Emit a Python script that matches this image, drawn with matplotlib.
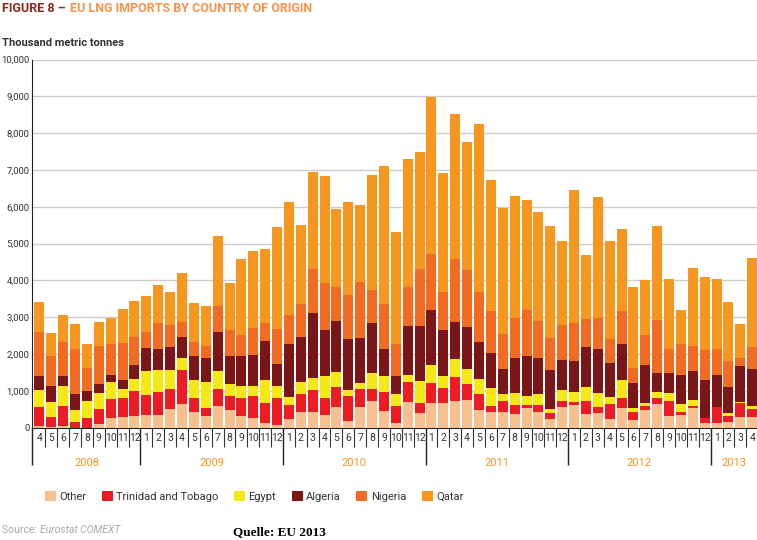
import matplotlib
matplotlib.use('Agg')
import numpy as np
import matplotlib.pyplot as plt
import matplotlib.transforms as mtransforms

plt.rcParams['font.family'] = ['Roboto', 'DejaVu Sans']

# months shown on the axis, Apr 2008 .. Apr 2013
year_labels = ['2008', '2009', '2010', '2011', '2012', '2013']
months_per_year = [9, 12, 12, 12, 12, 4]
month_labels = ['4', '5', '6', '7', '8', '9', '10', '11', '12'] + \
    [str(m) for m in range(1, 13)] * 4 + ['1', '2', '3', '4']

# thousand metric tonnes
other = [55, 10, 40, 0, 0, 100, 255, 300, 320,
         345, 345, 510, 636, 436, 318, 600, 482, 327, 255, 118, 73,
         227, 436, 418, 345, 555, 182, 573, 727, 464, 118, 691, 391,
         664, 682, 736, 755, 482, 436, 436, 373, 527, 436, 236, 555,
         618, 373, 409, 245, 527, 209, 482, 645, 318, 345, 527, 136,
         136, 164, 300, 282]
trinidad = [520, 290, 550, 155, 265, 400, 520, 520, 680,
            530, 630, 545, 937, 373, 227, 455, 382, 473, 609, 546, 736,
            391, 482, 609, 473, 545, 682, 482, 318, 518, 473, 545, 291,
            545, 391, 637, 427, 427, 155, 300, 245, 91, 182, 173, 172,
            91, 363, 146, 391, 273, 227, 109, 155, 409, 91, 64, 119,
            419, 154, 382, 218]
egypt = [450, 410, 545, 330, 470, 435, 465, 225, 320,
         655, 580, 500, 317, 473, 691, 472, 327, 336, 264, 618, 327,
         227, 318, 318, 573, 400, 163, 154, 437, 409, 327, 200, 591,
         500, 318, 491, 409, 409, 482, 182, 318, 245, 300, 91, 300,
         273, 382, 381, 209, 500, 91, 73, 182, 228, 209, 164, 10,
         18, 73, 27, 100]
algeria = [390, 430, 280, 435, 265, 255, 180, 255, 390,
           635, 580, 635, 565, 654, 654, 1064, 764, 819, 855, 1082, 591,
           1428, 1228, 1773, 1273, 1391, 1382, 1227, 1363, 745, 473, 1319, 1482,
           1500, 1273, 1009, 1145, 1000, 954, 673, 955, 1091, 973, 1073, 818,
           818, 1073, 1200, 910, 973, 682, 1045, 500, 527, 773, 772, 1027,
           863, 709, 955, 1000]
nigeria = [1180, 820, 900, 1220, 620, 1035, 855, 1000, 745,
           435, 710, 590, 418, 382, 319, 727, 690, 554, 727, 481, 964,
           800, 900, 1182, 1272, 936, 1182, 1528, 891, 1228, 882, 1072, 1545,
           1518, 1027, 1718, 1546, 1373, 1137, 964, 1091, 1254, 1000, 854, 955,
           1045, 764, 846, 654, 909, 409, 800, 1454, 654, 855, 700, 809,
           700, 700, 227, 591]
qatar = [820, 600, 750, 680, 655, 640, 710, 935, 990,
         990, 1020, 900, 1317, 1072, 1091, 1891, 1273, 2064, 2091, 2019, 2773,
         3045, 2136, 2636, 2891, 2109, 2527, 2081, 3128, 3754, 3045, 3473, 3200,
         4255, 3218, 3918, 3473, 4545, 3572, 3409, 3318, 2973, 2954, 3055, 2273,
         3619, 1727, 3274, 2664, 2227, 2200, 1491, 2546, 1891, 936, 2118, 1982,
         1909, 1618, 927, 2427]

series_names = ['Other', 'Trinidad and Tobago', 'Egypt', 'Algeria', 'Nigeria', 'Qatar']
series = [other, trinidad, egypt, algeria, nigeria, qatar]
colors = ['#f8c08f', '#ed1c24', '#f5e814', '#7a1518', '#f26b23', '#f8971f']

W, H = 757, 540
fig = plt.figure(figsize=(W / 100, H / 100), dpi=100)
ax = fig.add_axes([32.3 / W, 1 - 427.7 / H, 1 - 32.3 / W, (427.7 - 59.5) / H])

x = np.arange(len(month_labels))
bottom = np.zeros(len(x))
for name, vals, col in zip(series_names, series, colors):
    ax.bar(x, vals, 0.84, bottom=bottom, color=col, label=name, zorder=3)
    bottom += np.array(vals)

ax.set_xlim(-0.6, 60.4)
ax.set_ylim(0, 10000)
ax.set_yticks(range(0, 10001, 1000))
ax.set_yticklabels([f'{v:,}' for v in range(0, 10001, 1000)])
ax.yaxis.grid(True, color='#cdcdcd', lw=1, zorder=0)
ax.set_axisbelow(True)
ax.tick_params(axis='y', length=0, pad=2, labelsize=6.8, labelcolor='#333333')

ax.set_xticks(x)
ax.set_xticklabels(month_labels)
ax.tick_params(axis='x', length=0, pad=4, labelsize=7.5, labelcolor='#333333')

for side in ['top', 'right']:
    ax.spines[side].set_visible(False)
ax.spines['left'].set_color('#222222')
ax.spines['bottom'].set_color('#222222')

# separators under the axis
trans = mtransforms.blended_transform_factory(ax.transData, ax.transAxes)
axh = (427.7 - 59.5)
starts = np.cumsum([0] + months_per_year[:-1])
month_bounds = [i + 0.5 for i in x[:-1] if (i + 1) not in starts]
ax.vlines(month_bounds, -19 / axh, 0, transform=trans, clip_on=False,
          color='#333333', lw=0.8)
year_bounds = [ax.get_xlim()[0]] + [s - 0.5 for s in starts[1:]]
ax.vlines(year_bounds, -37 / axh, 0, transform=trans, clip_on=False,
          color='#222222', lw=1)
for s, n, yl in zip(starts, months_per_year, year_labels):
    ax.text(s + (n - 1) / 2, -35 / axh, yl, transform=trans, ha='center',
            va='center', color='#f7941d', fontsize=8)

# title and header texts
t1 = fig.text(2 / W, 1 - 9 / H, 'FIGURE 8 \u2013', color='#8a2a1e',
              weight='bold', fontsize=9, va='center')
r = fig.canvas.get_renderer()
bb = t1.get_window_extent(r)
fig.text((bb.x1 + 4) / W, 1 - 9 / H, 'EU LNG IMPORTS BY COUNTRY OF ORIGIN',
         color='#f7944a', weight='bold', fontsize=9, va='center')
fig.text(2 / W, 1 - 43 / H, 'Thousand metric tonnes', color='#333333',
         weight='bold', fontsize=8, va='center')

fig.legend(loc='center', bbox_to_anchor=(254 / W, 1 - 496.7 / H), ncol=6,
           frameon=False, fontsize=8, handlelength=1.0, handleheight=1.0,
           handletextpad=0.3, columnspacing=1.4, labelcolor='#333333')

s1 = fig.text(2 / W, 1 - 530 / H, 'Source: ', color='#aaaaaa', fontsize=7.5,
              va='center')
bb = s1.get_window_extent(r)
fig.text(bb.x1 / W, 1 - 530 / H, 'Eurostat COMEXT', color='#aaaaaa',
         fontsize=7.5, style='italic', va='center')
fig.text(233 / W, 1 - 538 / H, 'Quelle: EU 2013', family='Liberation Serif',
         weight='bold', fontsize=9.5, va='bottom', color='black')

fig.savefig('out.png', dpi=100)
